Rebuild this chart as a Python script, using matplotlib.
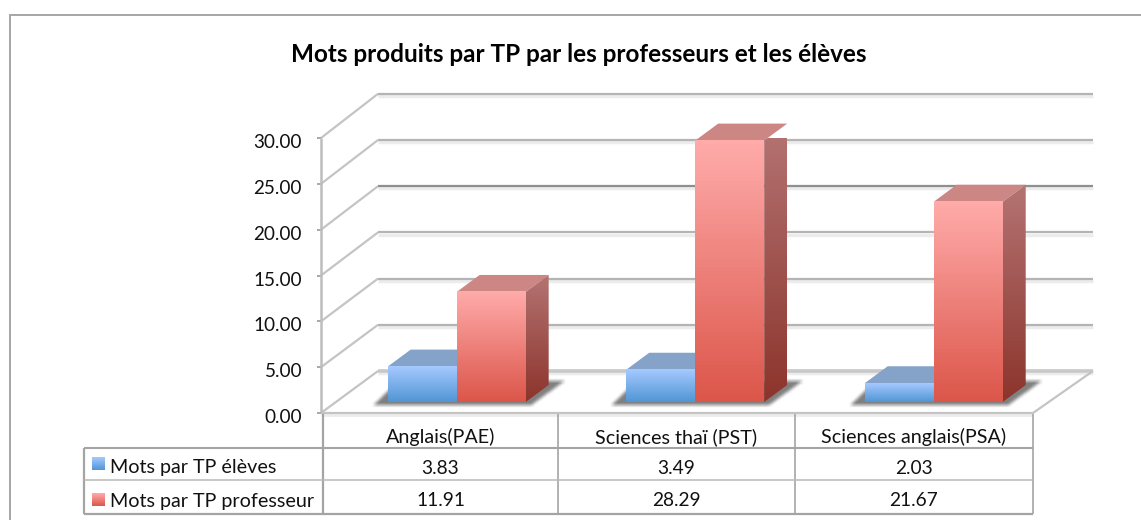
import numpy as np
import matplotlib
matplotlib.use("Agg")
import matplotlib.pyplot as plt
from matplotlib.colors import LinearSegmentedColormap
from matplotlib.patches import Polygon, Rectangle
from matplotlib.path import Path

plt.rcParams['font.family'] = ['Lato', 'DejaVu Sans']

# data
categories = ["Anglais(PAE)", "Sciences thaï (PST)", "Sciences anglais(PSA)"]
eleves = [3.83, 3.49, 2.03]
profs = [11.91, 28.29, 21.67]
series_names = ["Mots par TP élèves", "Mots par TP professeur"]
yticks = [0, 5, 10, 15, 20, 25, 30]
title = "Mots produits par TP par les professeurs et les élèves"

W, H = 1141, 520
# front plane of the 3d box, in pixels
LEFT, RIGHT, BOTTOM, TOP = 321, 1033, 413, 138
fig = plt.figure(figsize=(W / 100, H / 100), dpi=100)
ax = fig.add_axes([LEFT / W, 1 - BOTTOM / H, (RIGHT - LEFT) / W, (BOTTOM - TOP) / H])
ax.set_xlim(0, 3)
ax.set_ylim(0, 30)
ax.axis("off")

sx = (RIGHT - LEFT) / 3  # px per category
sy = (BOTTOM - TOP) / 30  # px per unit
DX, DY = 57 / sx, 42 / sy  # depth of the box
BACK_R = 3 + 60 / sx  # back wall ends a bit further right
BACK_SCALE = 1.008  # planes further back are very slightly bigger
BAR_W = 69 / sx
OFF_X, OFF_Y = 17 / sx, 11 / sy  # bars stand a little inside the floor
BD_X, BD_Y = 23 / sx, 17 / sy  # bar depth


def px(x, y):
    return (x - LEFT) / sx, (BOTTOM - y) / sy


def line(xs, ys, color, lw, z=1):
    ax.plot(xs, ys, color=color, lw=lw, zorder=z, clip_on=False, solid_capstyle="butt")


def grad(x0, x1, y0, y1, top, bottom, z, clip=None):
    cmap = LinearSegmentedColormap.from_list("g", [top, bottom])
    im = ax.imshow(np.linspace(0, 1, 64).reshape(-1, 1), cmap=cmap, aspect="auto",
                   extent=[x0, x1, y0, y1], origin="upper", zorder=z, clip_on=False)
    if clip is not None:
        p = Polygon(clip, closed=True, transform=ax.transData, fc="none", ec="none", clip_on=False)
        ax.add_patch(p)
        im.set_clip_on(True)
        im.set_clip_box(None)
        im.set_clip_path(p)
    return im


def blur(a, n):
    k = np.ones(n) / n
    a = np.apply_along_axis(lambda r: np.convolve(r, k, mode="same"), 0, a)
    return np.apply_along_axis(lambda r: np.convolve(r, k, mode="same"), 1, a)


def floor_shadow(xb, xr):
    # soft dark shape on the floor around the foot of a bar pair, in px from the bar foot
    l, r = (xb * sx), (xr * sx)
    foot = OFF_Y * sy
    poly = Path([(l - 15, -foot - 3), (r + 6, -foot - 3), (r + 40, -foot + 22),
                 (r + 20, -foot + 22), (l, -foot + 12)])
    xs = np.arange(l - 24, r + 50)
    ys = np.arange(-foot - 10, -foot + 30)
    gx, gy = np.meshgrid(xs, ys)
    mask = poly.contains_points(np.c_[gx.ravel(), gy.ravel()]).reshape(gx.shape).astype(float)
    rgba = np.zeros(gx.shape + (4,))
    rgba[..., :3] = 0.2
    rgba[..., 3] = blur(mask, 5) * 0.62
    ax.imshow(rgba, aspect="auto", origin="lower", zorder=3, clip_on=False, interpolation="bilinear",
              extent=[xs[0] / sx, xs[-1] / sx, (ys[0] + 2 * foot) / sy, (ys[-1] + 2 * foot) / sy])


def bar(x0, val, front, top_col, side, z):
    x1 = x0 + BAR_W
    y0 = OFF_Y
    y1 = OFF_Y + val * BACK_SCALE
    ax.add_patch(Polygon([(x0, y1), (x1, y1), (x1 + BD_X, y1 + BD_Y), (x0 + BD_X, y1 + BD_Y)],
                         fc=top_col, ec="none", zorder=z, clip_on=False))
    if side is not None:
        grad(x1, x1 + BD_X, y0, y1 + BD_Y, side[0], side[1], z,
             clip=[(x1, y0), (x1 + BD_X, y0 + BD_Y), (x1 + BD_X, y1 + BD_Y), (x1, y1)])
    grad(x0, x1, y0, y1, front[0], front[1], z + 0.1)


# gridlines on the wall
for v in yticks:
    y_back = v * BACK_SCALE + DY
    back_col = "#8f8f8f" if v == 20 else ("#c8c8c8" if v == 0 else "#b4b4b4")
    line([DX, BACK_R], [y_back - 0.25, y_back - 0.25], "#ececec", 2.5, 1)
    line([0, DX], [v, y_back], "#c4c4c4", 1.6, 2)
    line([DX, BACK_R], [y_back, y_back], back_col, 1.6 if v else 2.6, 2)
    line([-4 / sx, 0], [v, v], "#9a9a9a", 1.2, 2)
    ax.text(-19 / sx, v - 4.5 / sy, "%.2f" % v, ha="right", va="center", fontsize=13.6, color="#111111")

# floor and wall edge
line([0, 3, BACK_R], [0, 0, DY], "#c4c4c4", 1.6, 2)
line([0, 3], [-0.25, -0.25], "#ececec", 2.0, 1)
line([0, 0], [0, 30], "#bdbdbd", 1.8, 2)

# bars
for i in range(3):
    xc = i * 1.005 + 0.5 + OFF_X
    xb = xc - BAR_W
    xr = xc + BAR_W
    floor_shadow(xb, xr)
    bar(xb, eleves[i], ("#a5c9ff", "#5196d5"), "#85a3c9", None, 4)
    bar(xc, profs[i], ("#ffabaa", "#dc564a"), "#cc8684", ("#b47472", "#8c342c"), 5)

# table
TAB_LINE = "#a4a4a4"
rows_y = [437, 468, 501]
cols_x = [323, 558, 795, 1033]


def tline(x0, y0, x1, y1, color=TAB_LINE, lw=1.4):
    a, b = px(x0, y0), px(x1, y1)
    line([a[0], b[0]], [a[1], b[1]], color, lw, 6)


for cx in cols_x:
    tline(cx, 414, cx, 514, lw=1.2 if cx != 323 else 1.6)
tline(84, 448, 84, 514, lw=1.6)
tline(84, 448, 1033, 448, lw=1.5)
tline(84, 480, 1033, 480, color="#b8b8b8", lw=1.1)
tline(84, 514, 1033, 514, lw=1.6)

for i, cat in enumerate(categories):
    mid = (cols_x[i] + cols_x[i + 1]) / 2
    xt = px(mid, rows_y[0])
    ax.text(xt[0], xt[1], cat, ha="center", va="center", fontsize=14.2, color="#111111")
    for ypx, vals in [(rows_y[1], eleves), (rows_y[2], profs)]:
        pt = px(mid, ypx)
        ax.text(pt[0], pt[1], "%.2f" % vals[i], ha="center", va="center", fontsize=13.8, color="#111111")

swatches = [("#a5c9ff", "#5196d5"), ("#ffabaa", "#dc564a")]
for name, ypx, swy, sw in zip(series_names, rows_y[1:], [457, 493], swatches):
    a = px(92, swy)
    b = px(105, swy + 13)
    grad(a[0], b[0], b[1], a[1], sw[0], sw[1], 7)
    t = px(110, ypx)
    ax.text(t[0], t[1], name, ha="left", va="center", fontsize=14.2, color="#111111")

# title and chart frame
fig.text(578.5 / W, 1 - 54 / H, title, ha="center", va="center", fontsize=17.5, fontweight="bold", color="black")
fig.add_artist(Rectangle((9.5 / W, -0.1), 1.2, 1.1 - 15 / H, transform=fig.transFigure,
                         fc="none", ec="#a6a6a6", lw=1.4))

ax.set_xlim(0, 3)
ax.set_ylim(0, 30)
fig.savefig("out.png", dpi=100)
